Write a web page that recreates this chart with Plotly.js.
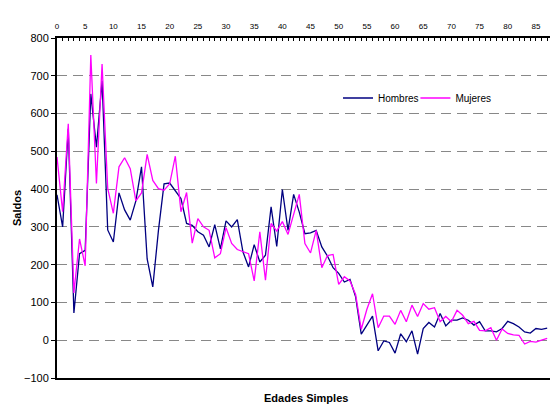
<!DOCTYPE html>
<html>
<head>
<meta charset="utf-8">
<script src="https://cdn.plot.ly/plotly-3.0.1.min.js"></script>
<style>html,body{margin:0;padding:0;background:#fff;}#chart{width:550px;height:409px;}</style>
</head>
<body>
<div id="chart"></div>
<script>
const edades = Array.from({length: 88}, (_, i) => i);
const hombres = [385,300,560,72,229,238,652,511,687,292,260,390,345,318,369,459,215,141,290,414,
  416,397,375,309,304,287,278,247,306,242,316,300,319,234,194,253,207,225,353,248,
  399,291,386,339,282,284,291,247,223,192,177,154,161,115,16,40,64,-28,-2,-6,
  -34,17,-4,25,-37,31,47,35,71,38,53,53,59,53,40,49,25,25,22,31,
  50,44,35,22,19,31,29,32];
const mujeres = [485,340,573,125,268,197,755,415,731,402,336,459,483,454,369,390,492,423,401,397,
  414,487,340,391,257,322,300,291,218,229,298,256,240,234,229,157,287,159,309,289,
  314,280,331,386,256,231,291,192,224,227,148,168,157,121,29,82,123,33,64,64,
  42,79,49,93,63,97,82,86,49,63,49,79,66,44,50,26,25,33,0,30,
  18,14,13,-10,-3,-5,0,5];
const serieNames = ['Hombres', 'Mujeres'];
const yTitle = 'Saldos';
const xTitle = 'Edades Simples';

const font = 'Liberation Sans, Arial, sans-serif';
const traces = [
  {x: edades, y: hombres, name: serieNames[0], type: 'scatter', mode: 'lines',
   line: {color: '#000080', width: 1.3}, legend: 'legend'},
  {x: edades, y: mujeres, name: serieNames[1], type: 'scatter', mode: 'lines',
   line: {color: '#FF00FF', width: 1.3}, legend: 'legend2'}
];
const legendBase = {orientation: 'h', xanchor: 'left', y: 0.8235, yanchor: 'middle',
  font: {size: 10, family: font}, itemwidth: 30, bgcolor: 'rgba(0,0,0,0)'};
const layout = {
  width: 550, height: 409,
  margin: {l: 57, r: 0, t: 38, b: 31},
  paper_bgcolor: '#fff', plot_bgcolor: '#fff',
  font: {family: font, color: '#000'},
  showlegend: true,
  legend: Object.assign({}, legendBase, {x: 0.57}),
  legend2: Object.assign({}, legendBase, {x: 0.727}),
  xaxis: {
    side: 'top', range: [0, 87.5], tickmode: 'linear', tick0: 0, dtick: 5,
    ticks: 'inside', ticklen: 3, tickcolor: '#000', tickwidth: 1,
    minor: {dtick: 1, ticks: 'inside', ticklen: 3, tickcolor: '#000'},
    tickfont: {size: 8, family: font},
    ticklabelstandoff: 4,
    showline: true, linecolor: '#000', linewidth: 2, mirror: true,
    showgrid: false, zeroline: false
  },
  yaxis: {
    range: [-100, 800], tickmode: 'linear', tick0: -100, dtick: 100,
    ticks: 'outside', ticklen: 4, tickcolor: '#000',
    tickfont: {size: 11, family: font},
    showline: true, linecolor: '#000', linewidth: 2,
    showgrid: true, gridcolor: '#888', griddash: '10px,6px', gridwidth: 1,
    zeroline: false,
    title: {text: yTitle, font: {size: 11, family: font, weight: 'bold'}, standoff: 0}
  },
  annotations: [
    {text: xTitle, xref: 'paper', yref: 'paper', x: 0.505, y: -0.0588,
     xanchor: 'center', yanchor: 'middle', showarrow: false,
     font: {size: 11, family: font, weight: 'bold'}}
  ]
};
Plotly.newPlot('chart', traces, layout, {displayModeBar: false, staticPlot: true});
</script>
</body>
</html>
